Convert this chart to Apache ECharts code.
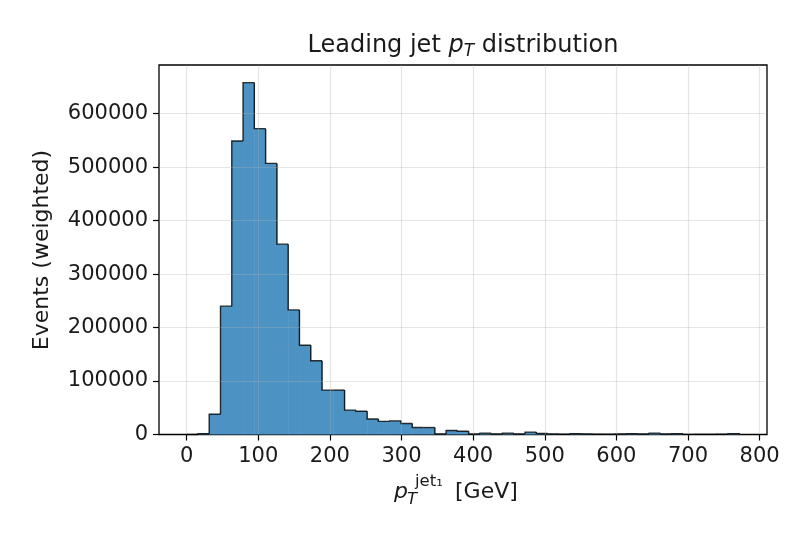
<!DOCTYPE html>
<html><head><meta charset="utf-8">
<script src="https://cdn.jsdelivr.net/npm/echarts@6/dist/echarts.min.js"></script>
<style>html,body{margin:0;padding:0;background:#fff}#c{width:801px;height:533px}</style>
</head><body><div id="c"></div>
<script>
const binEdges = [0, 15.75, 31.5, 47.25, 63, 78.75, 94.5, 110.25, 126, 141.75, 157.5, 173.25, 189, 204.75, 220.5, 236.25, 252, 267.75, 283.5, 299.25, 315, 330.75, 346.5, 362.25, 378, 393.75, 409.5, 425.25, 441, 456.75, 472.5, 488.25, 504, 519.75, 535.5, 551.25, 567, 582.75, 598.5, 614.25, 630, 645.75, 661.5, 677.25, 693, 708.75, 724.5, 740.25, 756, 771.75];
const counts = [0, 1500, 38000, 240000, 549000, 658000, 572000, 507000, 356000, 233000, 167000, 138000, 83000, 83000, 45500, 43500, 29000, 24500, 25500, 20500, 13000, 13000, 1000, 7500, 6000, 1000, 2500, 1000, 2500, 800, 4500, 2000, 800, 500, 1500, 800, 500, 500, 800, 1500, 800, 2500, 800, 1500, 300, 300, 300, 500, 1500];
const xTicks = [0, 100, 200, 300, 400, 500, 600, 700, 800];
const yTicks = [0, 100000, 200000, 300000, 400000, 500000, 600000];
const titleText = 'Leading jet ';
const titleTail = ' distribution';
const yLabel = 'Events (weighted)';

const FONT = 'DejaVu Sans';
const TXT = '#1a1a1a';
const chart = echarts.init(document.getElementById('c'), null, {renderer: 'canvas'});
const nBins = counts.length;
const data = counts.map((v, i) => [binEdges[i], binEdges[i + 1], v, i > 0 ? counts[i - 1] : 0, i === nBins - 1 ? 1 : 0]);

const cv = document.createElement('canvas').getContext('2d');
function tw(t, size, italic) { cv.font = (italic ? 'italic ' : '') + size + 'px "' + FONT + '"'; return cv.measureText(t).width; }
const LBL = 22, SCR = 16.5, TICK = 21;
const wP = tw('p', LBL, true);
const xl0 = 394, xlY = 492;

const option = {
  animation: false,
  textStyle: {fontFamily: FONT},
  grid: {left: 159, top: 65, width: 608, height: 369.5, show: true, borderColor: '#000', borderWidth: 1.3, backgroundColor: '#fff'},
  xAxis: {
    type: 'value', min: -38.6, max: 810.3,
    axisLine: {show: false, onZero: false},
    axisTick: {show: true, customValues: xTicks, length: 6, lineStyle: {color: '#000', width: 1.2}},
    axisLabel: {customValues: xTicks, fontSize: TICK, color: TXT, margin: 12, fontFamily: FONT, formatter: v => String(v)},
    splitLine: {show: false}
  },
  yAxis: {
    type: 'value', min: 0, max: 691000,
    axisLine: {show: false, onZero: false},
    axisTick: {show: true, customValues: yTicks, length: 6, lineStyle: {color: '#000', width: 1.2}},
    axisLabel: {customValues: yTicks, fontSize: TICK, color: TXT, margin: 11, fontFamily: FONT, formatter: v => String(v)},
    splitLine: {show: false}
  },
  graphic: [
    {type: 'text', x: 463, y: 46, z: 10, style: {
      text: '{n|' + titleText + '}{i|p}{s|T}{n|' + titleTail + '}',
      align: 'center', verticalAlign: 'middle',
      rich: {
        n: {fontSize: 24, fontFamily: FONT, fill: TXT, color: TXT},
        i: {fontSize: 24, fontFamily: FONT, fontStyle: 'italic', fill: TXT, color: TXT},
        s: {fontSize: 17, fontFamily: FONT, fontStyle: 'italic', fill: TXT, color: TXT, padding: [12, 0, 0, 0]}
      }}},
    {type: 'text', x: 42, y: 250, rotation: Math.PI / 2, z: 10, style: {text: yLabel, fontSize: LBL, fontFamily: FONT, fill: TXT, align: 'center', verticalAlign: 'middle'}},
    {type: 'text', x: xl0, y: xlY, z: 10, style: {text: 'p', fontSize: LBL, fontStyle: 'italic', fontFamily: FONT, fill: TXT, align: 'left', verticalAlign: 'middle'}},
    {type: 'text', x: xl0 + wP - 1, y: xlY + 8, z: 10, style: {text: 'T', fontSize: SCR, fontStyle: 'italic', fontFamily: FONT, fill: TXT, align: 'left', verticalAlign: 'middle'}},
    {type: 'text', x: xl0 + wP + 7, y: xlY - 10, z: 10, style: {text: 'jet\u2081', fontSize: SCR, fontFamily: FONT, fill: TXT, align: 'left', verticalAlign: 'middle'}},
    {type: 'text', x: 455, y: xlY, z: 10, style: {text: '[GeV]', fontSize: LBL, fontFamily: FONT, fill: TXT, align: 'left', verticalAlign: 'middle'}}
  ],
  series: [
    {
      type: 'custom', z: 2, data: data,
      encode: {x: [0, 1], y: 2},
      renderItem: function (params, api) {
        const x0 = api.value(0), x1 = api.value(1), v = api.value(2), pv = api.value(3), last = api.value(4);
        const a = api.coord([x0, v]);
        const b = api.coord([x1, 0]);
        const pp = api.coord([x0, pv]);
        const pts = [[pp[0], pp[1]], [a[0], a[1]], [b[0], a[1]]];
        if (last) pts.push([b[0], b[1]]);
        return {type: 'group', children: [
          {type: 'rect', shape: {x: a[0], y: a[1], width: b[0] - a[0] + 0.5, height: b[1] - a[1]}, style: {fill: '#4c92c3', stroke: null}},
          {type: 'polyline', z2: 5, shape: {points: pts}, style: {fill: null, stroke: 'rgba(0,0,0,0.8)', lineWidth: 1.4, lineJoin: 'miter'}}
        ]};
      }
    },
    {
      type: 'line', z: 5, data: [[0, 0]], showSymbol: false, lineStyle: {opacity: 0}, silent: true,
      markLine: {
        silent: true, symbol: 'none', label: {show: false}, animation: false,
        lineStyle: {color: 'rgba(176,176,176,0.32)', width: 1.2, type: 'solid'},
        data: xTicks.map(v => ({xAxis: v})).concat(yTicks.filter(v => v > 0).map(v => ({yAxis: v})))
      }
    }
  ]
};
chart.setOption(option);
</script></body></html>
